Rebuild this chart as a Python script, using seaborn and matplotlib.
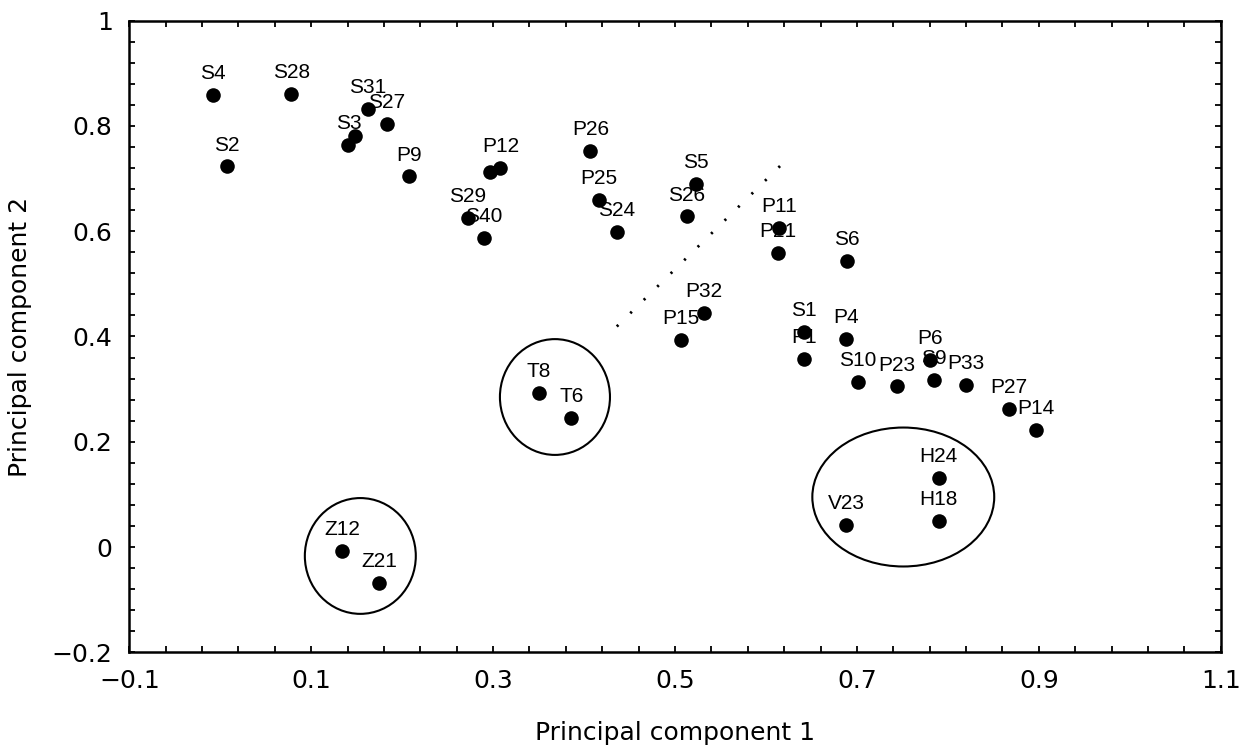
import numpy as np
import pandas as pd
import matplotlib
matplotlib.use("Agg")
import matplotlib.pyplot as plt
from matplotlib.patches import Ellipse
from matplotlib.ticker import FixedLocator, FuncFormatter
import seaborn as sns

# sample labels and their scores on the first two components
names = ["S4", "S28", "S2", "S31", "S27", "S3", "", "P9", "", "P12",
         "S29", "S40", "P26", "P25", "S24", "S5", "S26", "P11", "P21", "S6",
         "P32", "P15", "S1", "P1", "P4", "S10", "P23", "P6", "S9", "P33",
         "P27", "P14", "H24", "H18", "V23", "T8", "T6", "Z12", "Z21"]
pc1 = [-0.008, 0.078, 0.007, 0.162, 0.183, 0.141, 0.148, 0.208, 0.297, 0.308,
       0.272, 0.290, 0.407, 0.416, 0.436, 0.523, 0.513, 0.614, 0.613, 0.689,
       0.532, 0.507, 0.642, 0.642, 0.688, 0.701, 0.744, 0.780, 0.785, 0.820,
       0.867, 0.897, 0.790, 0.790, 0.688, 0.350, 0.386, 0.134, 0.175]
pc2 = [0.858, 0.861, 0.723, 0.832, 0.804, 0.764, 0.780, 0.704, 0.713, 0.720,
       0.625, 0.587, 0.752, 0.659, 0.598, 0.689, 0.628, 0.607, 0.559, 0.544,
       0.444, 0.393, 0.409, 0.357, 0.395, 0.314, 0.305, 0.355, 0.317, 0.308,
       0.263, 0.222, 0.132, 0.050, 0.041, 0.292, 0.245, -0.007, -0.068]

# group rings (Z, T, H/V)
ring_x = [0.154, 0.368, 0.751]
ring_y = [-0.017, 0.285, 0.095]
ring_w = [0.122, 0.121, 0.200]
ring_h = [0.220, 0.220, 0.264]

# dotted separating line
trend_x = [0.436, 0.625]
trend_y = [0.419, 0.740]

x_major = np.arange(-0.1, 1.11, 0.2)
x_minor = np.arange(-0.1, 1.11, 0.04)
y_major = np.arange(-0.2, 1.01, 0.2)
y_minor = np.arange(-0.2, 1.01, 0.04)

sns.set_style("ticks")
plt.rcParams['font.family'] = ['DejaVu Sans']
plt.rcParams.update({'text.color': 'black', 'axes.labelcolor': 'black',
                     'xtick.color': 'black', 'ytick.color': 'black'})

df = pd.DataFrame({'name': names, 'pc1': pc1, 'pc2': pc2})

fig = plt.figure(figsize=(12.47, 7.5), dpi=100)
ax = fig.add_axes([0.1037, 0.1303, 0.8752, 0.8421])

sns.scatterplot(data=df, x='pc1', y='pc2', color='black', s=110,
                linewidth=0, ax=ax, zorder=3, legend=False)

for _, r in df.iterrows():
    if r['name']:
        ax.annotate(r['name'], (r['pc1'], r['pc2']), xytext=(0, 11.5),
                    textcoords='offset points', ha='center', va='baseline',
                    fontsize=15, family=['Liberation Sans', 'DejaVu Sans'],
                    color='black', zorder=2)

for cx, cy, w, h in zip(ring_x, ring_y, ring_w, ring_h):
    ax.add_patch(Ellipse((cx, cy), w, h, fill=False, ec='black', lw=1.5))

ax.plot(trend_x, trend_y, color='black', lw=2.0, linestyle=(0, (0.8, 6)))

ax.set_xlim(-0.1, 1.1)
ax.set_ylim(-0.2, 1.0)
ax.xaxis.set_major_locator(FixedLocator(x_major))
ax.xaxis.set_minor_locator(FixedLocator(x_minor))
ax.yaxis.set_major_locator(FixedLocator(y_major))
ax.yaxis.set_minor_locator(FixedLocator(y_minor))
fmt = FuncFormatter(lambda v, p: f"{round(v, 2) + 0.0:g}".replace("-", "\u2212"))
ax.xaxis.set_major_formatter(fmt)
ax.yaxis.set_major_formatter(fmt)

ax.tick_params(which='both', direction='in', top=True, right=True,
               length=4, width=1.3, color='black')
ax.tick_params(axis='x', which='major', labelsize=18, pad=12)
ax.tick_params(axis='y', which='major', labelsize=18, pad=12)
for s in ax.spines.values():
    s.set_linewidth(1.8)
    s.set_color('black')

ax.set_xlabel("Principal component 1", fontsize=18, labelpad=20)
ax.set_ylabel("Principal component 2", fontsize=18, labelpad=14)

fig.savefig("out.png", dpi=100)
